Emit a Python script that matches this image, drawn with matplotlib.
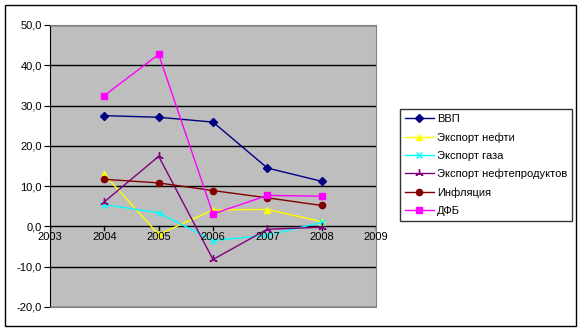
import matplotlib
matplotlib.use("Agg")
import matplotlib.pyplot as plt
from matplotlib.patches import Rectangle
from matplotlib.ticker import FuncFormatter, FixedLocator

plt.rcParams['font.family'] = ['Liberation Sans', 'DejaVu Sans']

years = [2004, 2005, 2006, 2007, 2008]
vvp = [27.5, 27.1, 25.9, 14.5, 11.2]
oil = [12.9, -2.0, 4.1, 4.2, 1.2]
gas = [5.4, 3.4, -3.5, -2.2, 1.0]
products = [6.1, 17.4, -8.2, -0.7, -0.2]
inflation = [11.7, 10.8, 8.9, 7.1, 5.2]
dfb = [32.5, 42.7, 3.1, 7.7, 7.5]
labels = ['ВВП', 'Экспорт нефти', 'Экспорт газа', 'Экспорт нефтепродуктов', 'Инфляция', 'ДФБ']
x_ticks = [2003, 2004, 2005, 2006, 2007, 2008, 2009]
y_ticks = [-20, -10, 0, 10, 20, 30, 40, 50]

W, H = 581, 333
fig = plt.figure(figsize=(W / 100, H / 100), dpi=100)
fig.patch.set_facecolor('white')
fig.add_artist(Rectangle((5 / W, 1 - 326 / H), 571 / W, 321 / H, transform=fig.transFigure,
                         fill=False, edgecolor='black', linewidth=1))

ax = fig.add_axes([50 / W, 1 - 307 / H, 326 / W, 282 / H])
ax.set_facecolor('#bebebe')
ax.set_xlim(2003, 2009)
ax.set_ylim(-20, 50)

for v in y_ticks:
    ax.axhline(v, color='black', linewidth=1, zorder=1)

styles = [
    (vvp, '#000080', 'D', 4, 1),
    (oil, '#ffff00', '^', 5, 1),
    (gas, '#00ffff', 'x', 5, 1),
    (products, '#800080', (3, 2, 0), 6, 1),
    (inflation, '#800000', 'o', 4.5, 1),
    (dfb, '#ff00ff', 's', 5, 1),
]
for (vals, c, m, ms, mew), lab in zip(styles, labels):
    ax.plot(years, vals, color=c, marker=m, markersize=ms, linewidth=1, label=lab, zorder=3,
            markeredgecolor=c, markerfacecolor=c, markeredgewidth=mew)

for s in ['top', 'right', 'bottom']:
    ax.spines[s].set_color('#808080')
    ax.spines[s].set_linewidth(0.8)
ax.spines['left'].set_color('black')

ax.yaxis.set_major_locator(FixedLocator(y_ticks))
ax.yaxis.set_major_formatter(FuncFormatter(lambda v, p: f"{v:.1f}".replace('.', ',')))
ax.xaxis.set_major_locator(FixedLocator(x_ticks))
ax.tick_params(axis='y', labelsize=8, length=4, direction='out', pad=2)
ax.tick_params(axis='x', length=0, labelsize=8)
ax.set_xticklabels([])
for xv in x_ticks:
    ax.text(xv, -1.3, str(xv), ha='center', va='top', fontsize=8, zorder=4)
    ax.plot([xv, xv], [0, -0.9], color='black', linewidth=1, zorder=2)

leg = fig.legend(loc='upper left', bbox_to_anchor=(400 / W, 1 - 109 / H), fontsize=8,
                 frameon=True, fancybox=False, edgecolor='black', handlelength=2.6,
                 labelspacing=0.72, borderpad=0.45, handletextpad=0.25, borderaxespad=0)
leg.get_frame().set_linewidth(1)

fig.savefig('out.png', dpi=100)
